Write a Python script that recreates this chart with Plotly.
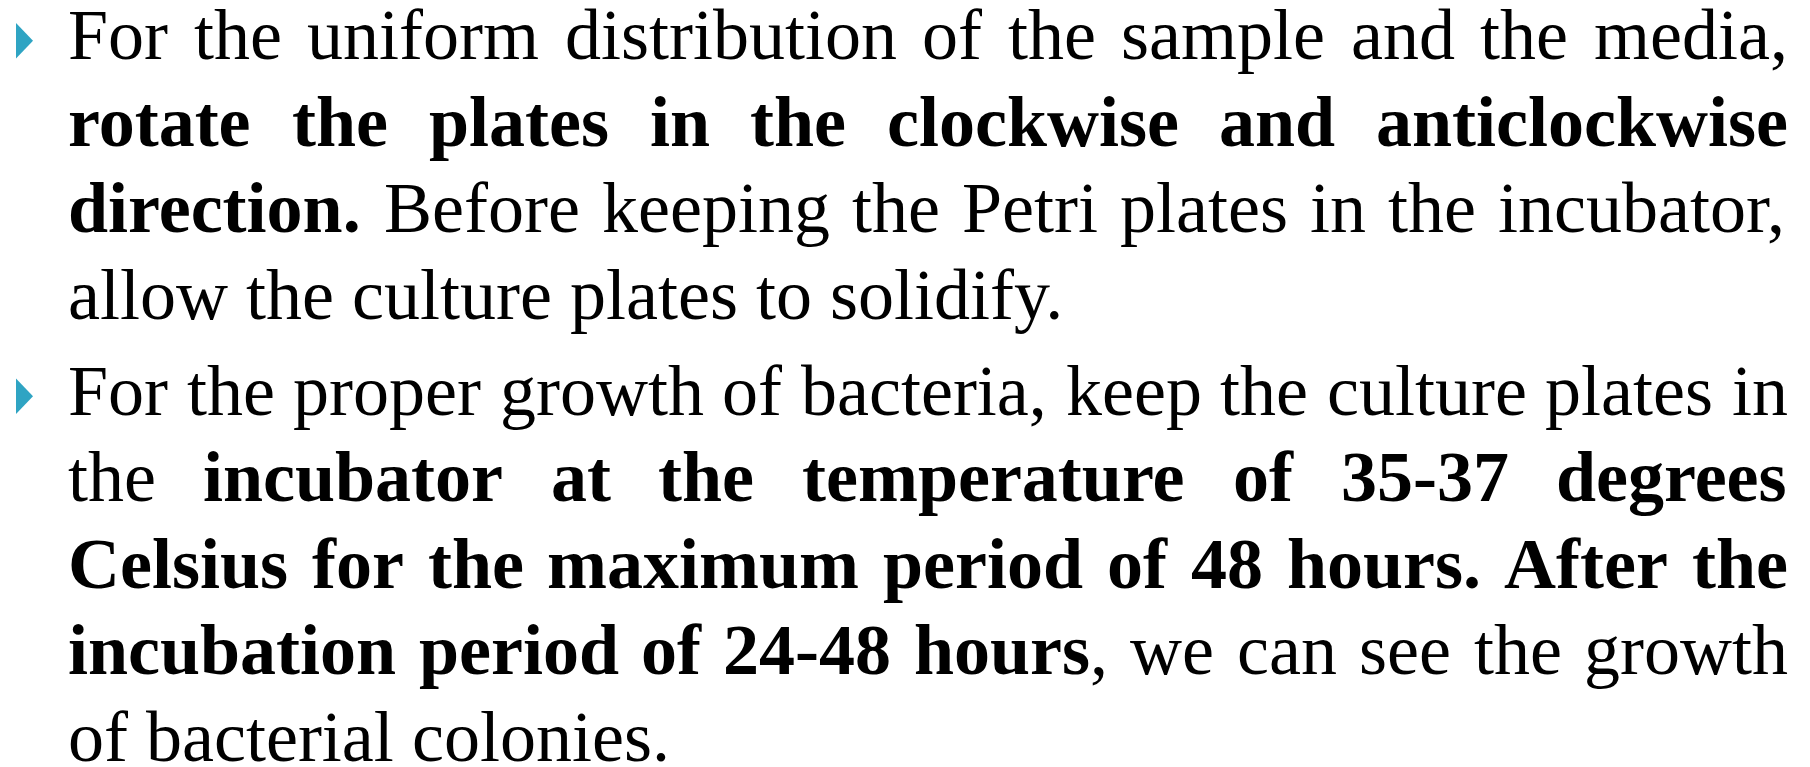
import plotly.graph_objects as go

# ---- content (text lines as segments: (text, bold)) ----
PARA1_LINES = [
    [("For the uniform distribution of the sample and the media,", False)],
    [("rotate the plates in the clockwise and anticlockwise", True)],
    [("direction.", True), (" Before keeping the Petri plates in the incubator,", False)],
    [("allow the culture plates to solidify.", False)],
]
PARA2_LINES = [
    [("For the proper growth of bacteria, keep the culture plates in", False)],
    [("the ", False), ("incubator at the temperature of 35-37 degrees", True)],
    [("Celsius for the maximum period of 48 hours. After the", True)],
    [("incubation period of 24-48 hours", True), (", we can see the growth", False)],
    [("of bacterial colonies.", False)],
]
PARAGRAPHS = [PARA1_LINES, PARA2_LINES]

# ---- layout / style constants ----
W, H = 1810, 767
PAGE_OFFSET = 8          # default body margin of the html page
FONT_SIZE = 72
FONT_FAMILY = "'Liberation Serif', 'Times New Roman', serif"
TEXT_LEFT, TEXT_RIGHT = 67, 1787
PARA_FIRST_BASELINE = [59.5, 415]
LINE_PITCH = 86.5
BULLET_COLOR = "#2FA4C3"
BULLET_LEFT, BULLET_RIGHT = 16, 33

# Times / Liberation Serif advance widths (1/1000 em)
REG = dict(zip(" ,-.:0123456789", [250, 250, 333, 250, 278] + [500] * 10))
REG.update(dict(zip("ABCDEFGHIJKLMNOPQRSTUVWXYZ",
    [722, 667, 667, 722, 611, 556, 722, 722, 333, 389, 722, 611, 889, 722, 722, 556, 722, 667, 556, 611, 722, 722, 944, 722, 722, 611])))
REG.update(dict(zip("abcdefghijklmnopqrstuvwxyz",
    [444, 500, 444, 500, 444, 333, 500, 500, 278, 278, 500, 278, 778, 500, 500, 500, 500, 333, 389, 278, 500, 500, 722, 500, 500, 444])))
BOLD = dict(zip(" ,-.:0123456789", [250, 250, 333, 250, 333] + [500] * 10))
BOLD.update(dict(zip("ABCDEFGHIJKLMNOPQRSTUVWXYZ",
    [722, 667, 722, 722, 667, 611, 778, 778, 389, 500, 778, 667, 944, 722, 778, 611, 778, 722, 556, 667, 722, 722, 1000, 722, 722, 667])))
BOLD.update(dict(zip("abcdefghijklmnopqrstuvwxyz",
    [500, 556, 444, 556, 444, 333, 500, 556, 278, 333, 556, 278, 833, 556, 500, 556, 556, 444, 389, 333, 556, 500, 722, 500, 500, 444])))


def seg_width(text, bold):
    table = BOLD if bold else REG
    return sum(table.get(c, 500) for c in text) * FONT_SIZE / 1000.0


def line_words(segments):
    """Split a line into words; each word is a list of (text, bold) pieces."""
    words, cur = [], []
    for text, bold in segments:
        buf = ""
        for ch in text:
            if ch == " ":
                if buf:
                    cur.append((buf, bold))
                    buf = ""
                if cur:
                    words.append(cur)
                    cur = []
            else:
                buf += ch
        if buf:
            cur.append((buf, bold))
    if cur:
        words.append(cur)
    return words


def word_html(word):
    return "".join(f"<b>{t}</b>" if b else t for t, b in word)


def word_width(word):
    return sum(seg_width(t, b) for t, b in word)


fig = go.Figure()
annotations = []
shapes = []
space = REG[" "] * FONT_SIZE / 1000.0
mid_offset = 0.3375 * FONT_SIZE  # baseline -> middle of annotation box

for p_idx, para in enumerate(PARAGRAPHS):
    base0 = PARA_FIRST_BASELINE[p_idx]
    # bullet
    shapes.append(dict(
        type="path", xref="x", yref="y",
        path=f"M{BULLET_LEFT},{base0 - 36.5} L{BULLET_RIGHT},{base0 - 18.75} L{BULLET_LEFT},{base0 - 1} Z",
        fillcolor=BULLET_COLOR, line=dict(width=0),
    ))
    for l_idx, segs in enumerate(para):
        baseline = base0 + l_idx * LINE_PITCH
        words = line_words(segs)
        widths = [word_width(w) for w in words]
        last = l_idx == len(para) - 1
        if last or len(words) < 2:
            gap = space
        else:
            gap = (TEXT_RIGHT - TEXT_LEFT - sum(widths)) / (len(words) - 1)
        x = TEXT_LEFT
        for w, wd in zip(words, widths):
            annotations.append(dict(
                x=x, y=baseline - mid_offset, xref="x", yref="y",
                text=word_html(w), showarrow=False,
                xanchor="left", yanchor="middle", borderpad=0,
                font=dict(family=FONT_FAMILY, size=FONT_SIZE, color="#000000"),
            ))
            x += wd + gap

fig.update_layout(
    width=W, height=H, autosize=False,
    margin=dict(l=0, r=0, t=0, b=0, pad=0),
    paper_bgcolor="white", plot_bgcolor="white",
    xaxis=dict(range=[PAGE_OFFSET, W + PAGE_OFFSET], visible=False, fixedrange=True),
    yaxis=dict(range=[H + PAGE_OFFSET, PAGE_OFFSET], visible=False, fixedrange=True),
    showlegend=False,
    annotations=annotations, shapes=shapes,
)

fig.write_html("out.html", config={"displayModeBar": False})
